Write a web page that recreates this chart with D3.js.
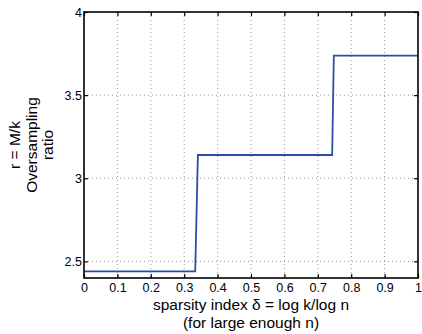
<!DOCTYPE html>
<html>
<head>
<meta charset="utf-8">
<script src="https://cdn.jsdelivr.net/npm/d3@7"></script>
<style>
  body { margin: 0; background: #fff; }
  text { font-family: "Liberation Sans", Arial, sans-serif; fill: #000; }
</style>
</head>
<body>
<script>
// step curve: sparsity index vs oversampling ratio
var deltaVals = [0, 0.333, 0.341, 0.743, 0.748, 1.0];
var ratioVals = [2.44, 2.44, 3.14, 3.14, 3.738, 3.738];

var xTicks = [0, 0.1, 0.2, 0.3, 0.4, 0.5, 0.6, 0.7, 0.8, 0.9, 1];
var yTicks = [2.5, 3, 3.5, 4];
var yLabelLines = ["r = M/k", "Oversampling", "ratio"];
var xLabelLines = ["sparsity index \u03b4 = log k/log n", "(for large enough n)"];

var W = 422, H = 334;
// plot box edges (window.top is reserved, so use prefixed names)
var PL = 84, PR = 418, PT = 12, PB = 278;

var svg = d3.select('body').append('svg')
	.attr('width', W)
	.attr('height', H);

var x = d3.scaleLinear().domain([0, 1]).range([PL, PR]);
var y = d3.scaleLinear().domain([2.4, 4]).range([PB, PT]);

// ---- dotted grid ----
svg.append('g').selectAll('line')
	.data(xTicks.slice(1, -1))
	.enter().append('line')
	.attr('x1', function(d) { return x(d); })
	.attr('x2', function(d) { return x(d); })
	.attr('y1', PT).attr('y2', PB)
	.attr('stroke', '#999')
	.attr('stroke-width', 1)
	.attr('stroke-dasharray', '1,3');

svg.append('g').selectAll('line')
	.data(yTicks.slice(0, -1))
	.enter().append('line')
	.attr('y1', function(d) { return y(d); })
	.attr('y2', function(d) { return y(d); })
	.attr('x1', PL).attr('x2', PR)
	.attr('stroke', '#999')
	.attr('stroke-width', 1)
	.attr('stroke-dasharray', '1,3');

// ---- data line ----
var line = d3.line()
	.x(function(d, i) { return x(deltaVals[i]); })
	.y(function(d) { return y(d); });

svg.append('path')
	.datum(ratioVals)
	.attr('d', line)
	.attr('fill', 'none')
	.attr('stroke', '#2c4ca6')
	.attr('stroke-width', 1.8);

// ---- axes (ticks inside, mirrored) ----
svg.append('g')
	.attr('transform', 'translate(0,' + PB + ')')
	.call(d3.axisBottom(x).tickValues(xTicks).tickSizeInner(-4).tickSizeOuter(0).tickPadding(5)
		.tickFormat(function(d) { return d3.format('~g')(d); }));

svg.append('g')
	.attr('transform', 'translate(0,' + PT + ')')
	.call(d3.axisTop(x).tickValues(xTicks).tickSizeInner(-4).tickSizeOuter(0).tickFormat(''));

svg.append('g')
	.attr('transform', 'translate(' + PL + ',0)')
	.call(d3.axisLeft(y).tickValues(yTicks).tickSizeInner(-4).tickSizeOuter(0).tickPadding(2)
		.tickFormat(function(d) { return d3.format('~g')(d); }));

svg.append('g')
	.attr('transform', 'translate(' + PR + ',0)')
	.call(d3.axisRight(y).tickValues(yTicks).tickSizeInner(-4).tickSizeOuter(0).tickFormat(''));

svg.selectAll('.domain').remove();
svg.selectAll('.tick line').attr('stroke', '#000').attr('stroke-width', 1.2);
svg.selectAll('.tick text').style('font-size', '12.5px').attr('fill', '#000');

// frame
svg.append('rect')
	.attr('x', PL).attr('y', PT)
	.attr('width', PR - PL).attr('height', PB - PT)
	.attr('fill', 'none')
	.attr('stroke', '#000')
	.attr('stroke-width', 1.6);

// ---- labels ----
svg.append('g').selectAll('text')
	.data(yLabelLines)
	.enter().append('text')
	.attr('transform', function(d, i) { return 'translate(' + (20 + i * 16.5) + ',' + ((PT + PB) / 2) + ') rotate(-90)'; })
	.attr('text-anchor', 'middle')
	.style('font-size', '15.5px')
	.text(function(d) { return d; });

svg.append('g').selectAll('text')
	.data(xLabelLines)
	.enter().append('text')
	.attr('x', (PL + PR) / 2)
	.attr('y', function(d, i) { return 309.5 + i * 18; })
	.attr('text-anchor', 'middle')
	.style('font-size', '15.5px')
	.text(function(d) { return d; });
</script>
</body>
</html>
